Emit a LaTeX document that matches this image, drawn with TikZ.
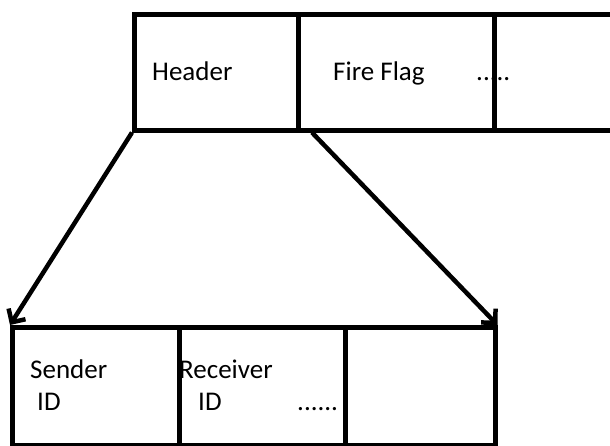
\documentclass[tikz,border=0pt]{standalone}
\usepackage{fontspec}
\setmainfont{Carlito}
\usetikzlibrary{arrows.meta,calc}
\begin{document}
\begin{tikzpicture}[x=1pt,y=-1pt,
  cell/.style={draw=black,line width=4.5pt,rectangle,inner sep=0pt,anchor=north west},
  lbl/.style={anchor=base west,inner sep=0pt,font=\fontsize{27}{31}\selectfont},
  conn/.style={draw=black,line width=4.5pt,-{Straight Barb[length=10pt,width=20pt,line width=4.5pt]}}]
\useasboundingbox (0,0) rectangle (610,445);
\clip (0,0) rectangle (610,445);
\fill[white] (0,0) rectangle (610,445);
% top row
\node[cell,minimum width=164pt,minimum height=116pt] (hdr) at (132,12) {};
\node[cell,minimum width=196pt,minimum height=116pt] (ff) at (296,12) {};
\node[cell,minimum width=130pt,minimum height=116pt] (tr) at (492,12) {};
% bottom row
\node[cell,minimum width=167pt,minimum height=118pt] (sid) at (10,325) {};
\node[cell,minimum width=166pt,minimum height=118pt] (rid) at (177,325) {};
\node[cell,minimum width=150pt,minimum height=118pt] (br) at (343,325) {};
% labels
\node[lbl] (t1) at (152,80) {Header};
\node[lbl] (t2) at (333,80) {Fire Flag};
\node[lbl] (t3) at (476,80) {.....};
\node[lbl] (t4) at (30,378) {Sender};
\node[lbl] (t5) at (37,410) {ID};
\node[lbl] (t6) at (179,378) {Receiver};
\node[lbl] (t7) at (198,410) {ID};
\node[lbl] (t8) at (297,410) {......};
% connectors
\coordinate (fs) at ($(ff.south west)+(16,0)$);
\draw[conn] (hdr.south west) -- (sid.north west);
\draw[conn] (fs) -- (br.north east);
\end{tikzpicture}
\end{document}
